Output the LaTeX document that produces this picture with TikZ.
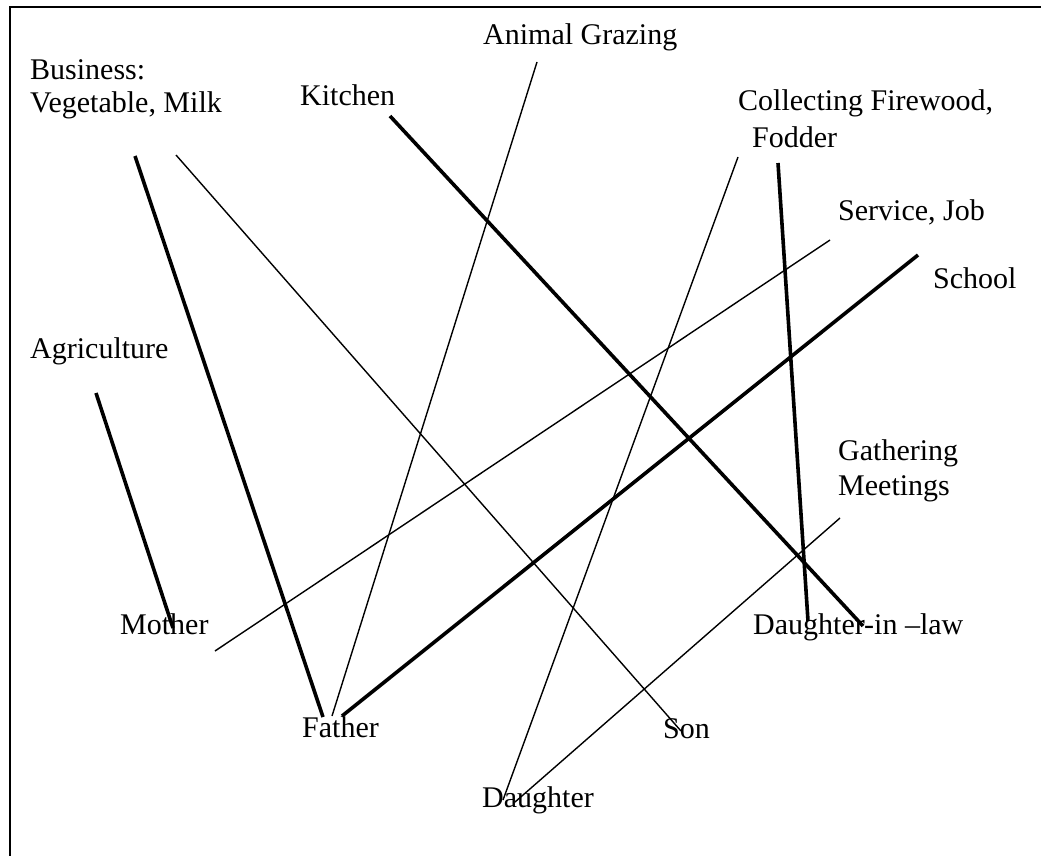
\documentclass[tikz,border=0pt]{standalone}
\usepackage{fontspec}
\setmainfont{Liberation Serif}
\begin{document}
\begin{tikzpicture}[x=1pt,y=-1pt,
  lbl/.style={inner sep=0pt,anchor=base west,font=\fontsize{30}{35}\selectfont},
  thinlink/.style={line width=1.4pt},
  thicklink/.style={line width=3.6pt},
  frame/.style={line width=2pt}]
\useasboundingbox (0,0) rectangle (1041,856);
\fill[white] (0,0) rectangle (1041,856);
\draw[frame] (10,870) -- (10,7) -- (1060,7);
% labels
\node[lbl] (grazing) at (483,45) {Animal Grazing};
\node[lbl] (business1) at (30,80) {Business:};
\node[lbl] (business2) at (30,113) {Vegetable, Milk};
\node[lbl] (kitchen) at (300,106) {Kitchen};
\node[lbl] (firewood1) at (738,111) {Collecting Firewood,};
\node[lbl] (firewood2) at (752,147) {Fodder};
\node[lbl] (service) at (838,220) {Service, Job};
\node[lbl] (school) at (933,288) {School};
\node[lbl] (agri) at (30,358) {Agriculture};
\node[lbl] (gather1) at (838,460) {Gathering};
\node[lbl] (gather2) at (838,495) {Meetings};
\node[lbl] (mother) at (120,634) {Mother};
\node[lbl] (dil) at (753,634) {Daughter-in –law};
\node[lbl] (father) at (302,737) {Father};
\node[lbl] (son) at (663,738) {Son};
\node[lbl] (daughter) at (482,807) {Daughter};
% connector ends
\coordinate (agriE) at (96,393);
\coordinate (motherA) at (173,628);
\coordinate (busA) at (135,156);
\coordinate (fatherB) at (323,717);
\coordinate (busB) at (176,155);
\coordinate (sonB) at (681,731);
\coordinate (kitE) at (390,116);
\coordinate (dilK) at (863,626);
\coordinate (grazE) at (537,62);
\coordinate (fatherG) at (332,716);
\coordinate (fireA) at (738,157);
\coordinate (daughterF) at (503,800);
\coordinate (fireB) at (778,163);
\coordinate (dilF) at (808,621);
\coordinate (servE) at (830,240);
\coordinate (motherS) at (215,651);
\coordinate (schoolE) at (918,255);
\coordinate (fatherS) at (342,716);
\coordinate (gathE) at (840,518);
\coordinate (daughterG) at (515,802);
% connectors
\draw[thicklink] (agriE) -- (motherA);
\draw[thicklink] (busA) -- (fatherB);
\draw[thinlink] (busB) -- (sonB);
\draw[thicklink] (kitE) -- (dilK);
\draw[thinlink] (grazE) -- (fatherG);
\draw[thinlink] (fireA) -- (daughterF);
\draw[thicklink] (fireB) -- (dilF);
\draw[thinlink] (servE) -- (motherS);
\draw[thicklink] (schoolE) -- (fatherS);
\draw[thinlink] (gathE) -- (daughterG);
\end{tikzpicture}
\end{document}
